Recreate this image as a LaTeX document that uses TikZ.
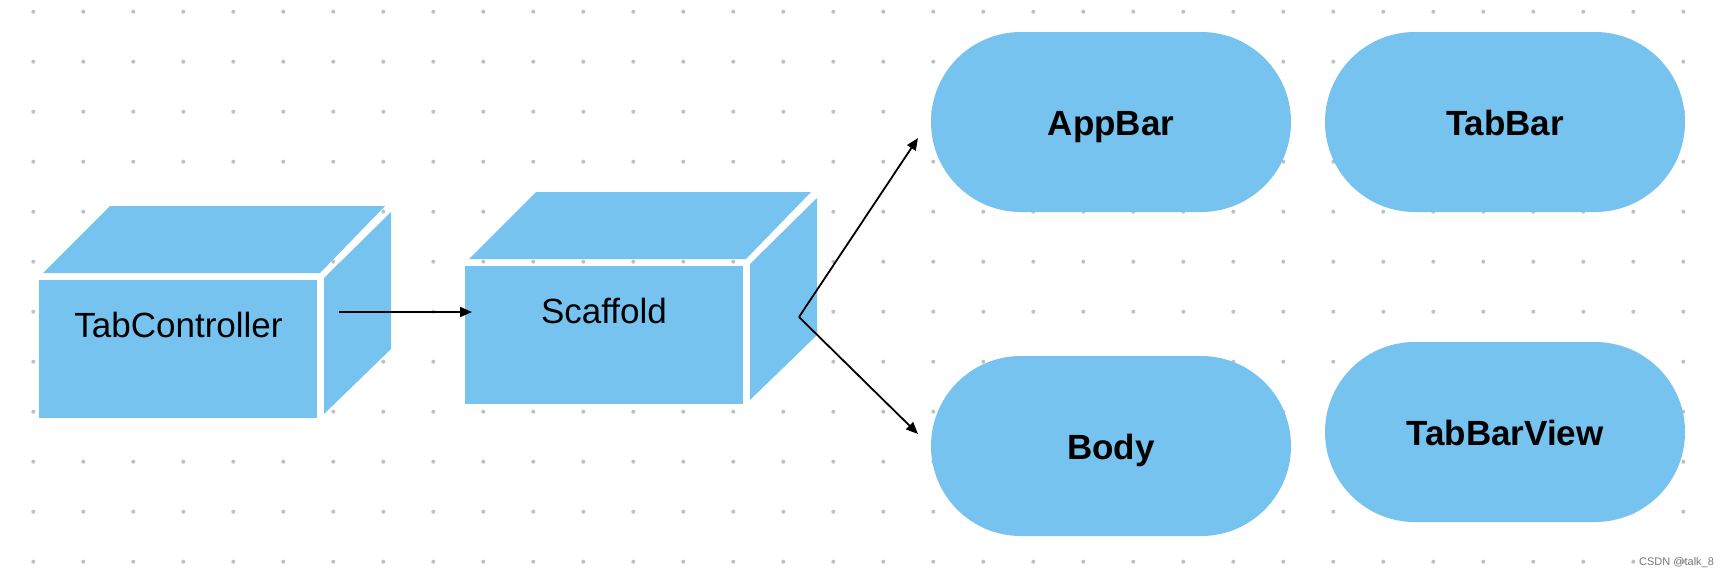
\documentclass[tikz,border=0pt]{standalone}
\usepackage{fontspec}
\setmainfont{Liberation Sans}
\usetikzlibrary{arrows.meta,calc}
\definecolor{boxblue}{RGB}{118,195,240}
\definecolor{dotgray}{RGB}{192,192,192}
\definecolor{wmgray}{RGB}{120,120,120}
\newcommand\cubefaces[1]{%
  \fill[boxblue] ($(#1.north west)+(4,-7)$) -- ++(67,-67) -- ++(275,0) -- ++(-65,67) -- cycle;
  \fill[boxblue] ($(#1.north west)+(285,-2)$) -- ++(67,-66) -- ++(0,137) -- ++(-67,65) -- cycle;
}
\begin{document}
\begin{tikzpicture}[x=1pt,y=-1pt,
  front/.style={fill=boxblue, inner sep=0pt, minimum width=278pt, minimum height=138pt, anchor=north west},
  stadium/.style={fill=boxblue, rounded corners=89.9pt, minimum width=360pt, minimum height=180pt, inner sep=0pt, font=\fontsize{35}{42}\selectfont\bfseries, text height=26pt, text depth=0pt},
  cubelabel/.style={font=\fontsize{35}{42}\selectfont, anchor=base, inner sep=0pt},
  conn/.style={line width=1.8pt, -{Triangle[length=12pt,width=10pt]}}]
\fill[white] (0,0) rectangle (1730,582);
\useasboundingbox (0,0) rectangle (1730,582);
% dot grid
\foreach \i in {0,...,33}{
  \foreach \j in {0,...,11}{
    \fill[dotgray] (33.3+50*\i, 11.7+50*\j) circle (2pt);
  }
}
% cubes
\node[front] (tc) at (39,280) {};
\cubefaces{tc}
\node[cubelabel] (tct) at ($(tc.north west)+(139.5,57)$) {TabController};
\node[front] (sc) at (465,266) {};
\cubefaces{sc}
\node[cubelabel] (sct) at ($(sc.north west)+(139,57)$) {Scaffold};
% stadiums
\node[stadium] (appbar) at (1111,122) {AppBar};
\node[stadium] (tabbar) at (1505,122) {TabBar};
\node[stadium] (body) at (1111,446) {Body};
\node[stadium] (tabbarview) at (1505,432) {TabBarView};
% connectors
\coordinate (tcout) at (339,312);
\coordinate (scin) at (472,312);
\coordinate (scout) at (799,317);
\coordinate (abin) at (918,138);
\coordinate (bdin) at (918,434);
\draw[conn] (tcout) -- (scin);
\draw[conn] (scout) -- (abin);
\draw[conn] (scout) -- (bdin);
% watermark
\node[font=\fontsize{11}{13}\selectfont, text=wmgray, anchor=west, inner sep=0pt] (wm) at (1639,563) {CSDN @talk\_8};
\end{tikzpicture}
\end{document}
